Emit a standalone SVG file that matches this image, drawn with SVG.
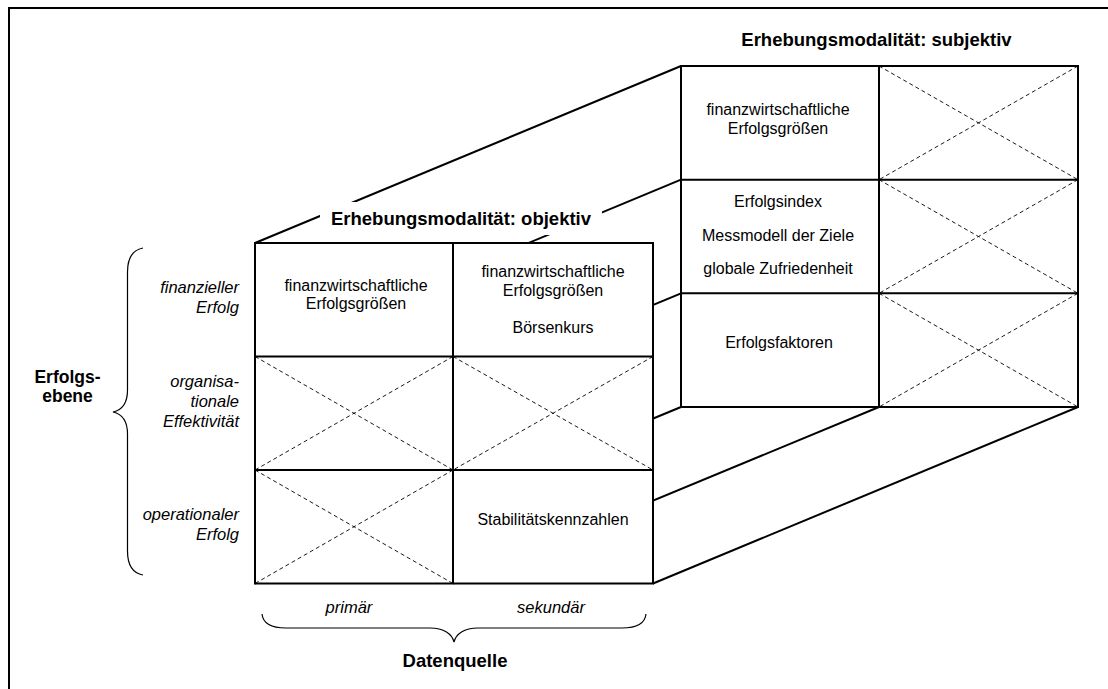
<svg xmlns="http://www.w3.org/2000/svg" width="1108" height="689" viewBox="0 0 1108 689">
<style>
.frame{fill:none;stroke:#000;stroke-width:2}
.grid{fill:#fff;stroke:#000;stroke-width:2}
.ln{fill:none;stroke:#000;stroke-width:2}
.x{fill:none;stroke:#000;stroke-width:0.9;stroke-dasharray:4 3}
.brace{fill:none;stroke:#000;stroke-width:1.2}
.t{font-family:"Liberation Sans",Arial,sans-serif;font-size:16px;fill:#000;text-anchor:middle}
.it{font-family:"Liberation Sans",Arial,sans-serif;font-size:16.5px;font-style:italic;fill:#000}
.b{font-family:"Liberation Sans",Arial,sans-serif;font-size:18.5px;font-weight:bold;fill:#000;text-anchor:middle}
</style>
<rect x="0" y="0" width="1108" height="689" fill="#fff"/>
<path class="frame" d="M9,689 L9,8 L1108,8"/>

<g id="connectors">
<line class="ln" x1="255" y1="243" x2="681" y2="66"/>
<line class="ln" x1="255" y1="356.5" x2="681" y2="179.7"/>
<line class="ln" x1="255" y1="470" x2="681" y2="293.3"/>
<line class="ln" x1="255" y1="583.5" x2="681" y2="407"/>
<line class="ln" x1="453" y1="583.5" x2="879" y2="407"/>
<line class="ln" x1="653" y1="583.5" x2="1078" y2="407"/>
</g>

<g id="back-grid">
<rect class="grid" x="681" y="66" width="397" height="341"/>
<line class="ln" x1="879" y1="66" x2="879" y2="407"/>
<line class="ln" x1="681" y1="179.7" x2="1078" y2="179.7"/>
<line class="ln" x1="681" y1="293.3" x2="1078" y2="293.3"/>
<path class="x" d="M879,66 L1078,179.7 M1078,66 L879,179.7"/>
<path class="x" d="M879,179.7 L1078,293.3 M1078,179.7 L879,293.3"/>
<path class="x" d="M879,293.3 L1078,407 M1078,293.3 L879,407"/>
<text class="t" x="778" y="115">finanzwirtschaftliche</text>
<text class="t" x="778" y="134">Erfolgsgrößen</text>
<text class="t" x="778" y="207">Erfolgsindex</text>
<text class="t" x="778" y="241">Messmodell der Ziele</text>
<text class="t" x="778" y="274">globale Zufriedenheit</text>
<text class="t" x="779" y="348">Erfolgsfaktoren</text>
</g>

<g id="front-grid">
<rect class="grid" x="255" y="243" width="398" height="340.5"/>
<line class="ln" x1="453" y1="243" x2="453" y2="583.5"/>
<line class="ln" x1="255" y1="356.5" x2="653" y2="356.5"/>
<line class="ln" x1="255" y1="470" x2="653" y2="470"/>
<path class="x" d="M255,356.5 L453,470 M453,356.5 L255,470"/>
<path class="x" d="M453,356.5 L653,470 M653,356.5 L453,470"/>
<path class="x" d="M255,470 L453,583.5 M453,470 L255,583.5"/>
<text class="t" x="356" y="291">finanzwirtschaftliche</text>
<text class="t" x="356" y="309">Erfolgsgrößen</text>
<text class="t" x="553" y="277">finanzwirtschaftliche</text>
<text class="t" x="553" y="295.5">Erfolgsgrößen</text>
<text class="t" x="553" y="333">Börsenkurs</text>
<text class="t" x="553" y="525">Stabilitätskennzahlen</text>
</g>

<g id="title-objektiv">
<rect x="320" y="202" width="282" height="33" fill="#fff"/>
<text class="b" x="461" y="225">Erhebungsmodalität: objektiv</text>
</g>
<g id="title-subjektiv">
<text class="b" x="876.5" y="46">Erhebungsmodalität: subjektiv</text>
</g>

<g id="erfolgsebene">
<path class="brace" d="M143,248 C132,250 127.5,258 127.5,272 L127.5,390 C127.5,403 122,410 113,412 C122,414 127.5,421 127.5,434 L127.5,551 C127.5,565 132,573 143,575"/>
<text class="b" x="67.5" y="383" style="font-size:17.5px">Erfolgs-</text>
<text class="b" x="67.5" y="402" style="font-size:17.5px">ebene</text>
<text class="it" x="239" y="293" text-anchor="end">finanzieller</text>
<text class="it" x="239" y="313" text-anchor="end">Erfolg</text>
<text class="it" x="239" y="387" text-anchor="end">organisa-</text>
<text class="it" x="239" y="407" text-anchor="end">tionale</text>
<text class="it" x="239" y="427" text-anchor="end">Effektivität</text>
<text class="it" x="239" y="520" text-anchor="end">operationaler</text>
<text class="it" x="239" y="540" text-anchor="end">Erfolg</text>
</g>

<g id="datenquelle">
<path class="brace" d="M262,614 C263,624 272,628 286,628 L430,628 C444,628 452,634 454,642 C456,634 464,628 478,628 L622,628 C636,628 645,624 646,614"/>
<text class="it" x="349" y="613" text-anchor="middle">primär</text>
<text class="it" x="551" y="613" text-anchor="middle">sekundär</text>
<text class="b" x="455" y="667">Datenquelle</text>
</g>
</svg>
